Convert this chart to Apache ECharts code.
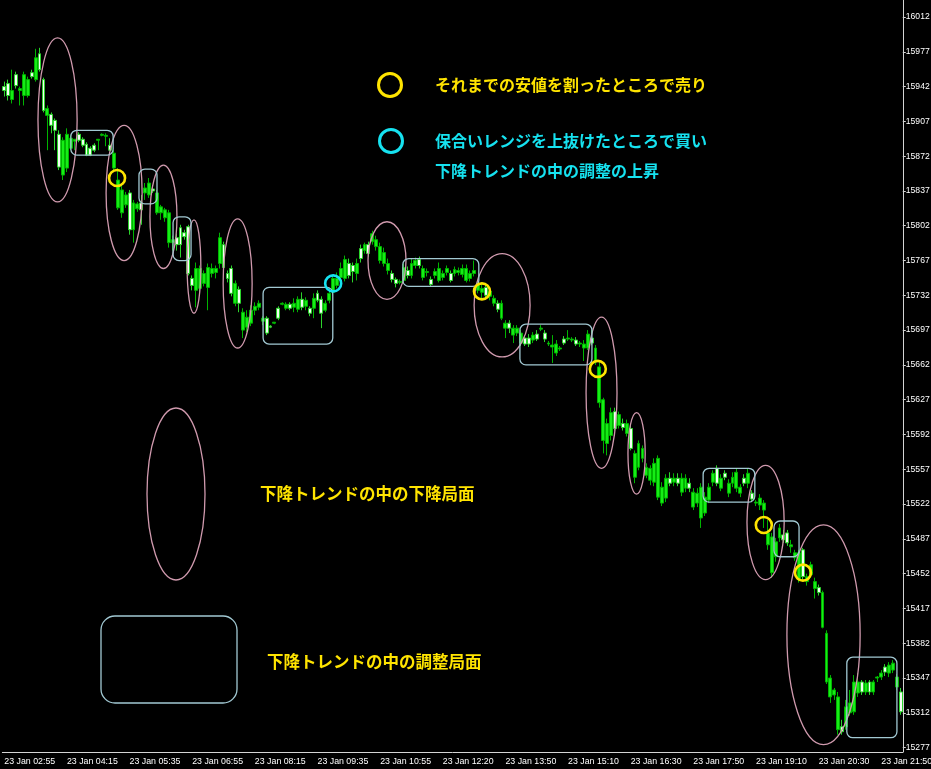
<!DOCTYPE html>
<html><head><meta charset="utf-8">
<script src="https://cdn.jsdelivr.net/npm/echarts@6/dist/echarts.min.js"></script>
<style>html,body{margin:0;padding:0;background:#000;}#c{width:931px;height:769px;}</style>
</head><body><div id="c"></div>
<script>
// Axis tick labels
const tickLabels = ['23 Jan 02:55','23 Jan 04:15','23 Jan 05:35','23 Jan 06:55','23 Jan 08:15','23 Jan 09:35','23 Jan 10:55','23 Jan 12:20','23 Jan 13:50','23 Jan 15:10','23 Jan 16:30','23 Jan 17:50','23 Jan 19:10','23 Jan 20:30','23 Jan 21:50'];
const yTicks = [15277,15312,15347,15382,15417,15452,15487,15522,15557,15592,15627,15662,15697,15732,15767,15802,15837,15872,15907,15942,15977,16012];

// 5-minute candles (open, close, low, high)
const openP = [15938,15933,15938,15943,15940,15954,15949,15952,15971,15959,
15918,15920,15903,15898,15861,15888,15894,15890,15889,15888,
15883,15873,15873,15878,15889,15894,15893,15878,15875,15848,
15838,15833,15798,15825,15824,15818,15840,15845,15837,15835,
15821,15818,15815,15788,15783,15783,15791,15754,15742,15759,
15759,15754,15760,15759,15759,15790,15760,15749,15734,15744,
15724,15715,15710,15717,15721,15724,15709,15694,15700,15705,
15709,15724,15723,15719,15724,15728,15720,15727,15714,15729,
15727,15714,15724,15734,15749,15749,15759,15768,15752,15756,
15764,15769,15783,15774,15794,15788,15781,15775,15764,15748,
15744,15746,15760,15752,15764,15767,15762,15759,15756,15743,
15756,15759,15754,15759,15747,15758,15757,15759,15759,15754,
15757,15744,15739,15732,15736,15729,15718,15724,15704,15699,
15699,15699,15694,15683,15683,15692,15688,15699,15688,15684,
15682,15683,15679,15684,15689,15688,15683,15684,15683,15693,
15684,15679,15660,15627,15603,15614,15598,15612,15599,15603,
15578,15573,15583,15578,15559,15558,15563,15568,15539,15548,
15543,15548,15543,15548,15548,15538,15534,15533,15539,15529,
15539,15553,15543,15548,15549,15543,15549,15554,15539,15543,
15553,15527,15524,15528,15523,15493,15489,15484,15498,15486,
15483,15481,15473,15473,15449,15449,15461,15444,15433,15433,
15392,15347,15335,15328,15293,15318,15322,15343,15343,15333,
15342,15333,15343,15348,15352,15353,15360,15362,15348,15313];
const closeP = [15942,15945,15929,15954,15938,15933,15933,15956,15949,15975,
15949,15913,15914,15908,15894,15853,15860,15880,15887,15894,
15889,15884,15880,15883,15888,15893,15892,15883,15860,15820,
15815,15823,15835,15798,15819,15825,15835,15833,15839,15815,
15815,15810,15785,15785,15790,15800,15795,15801,15749,15737,
15739,15744,15740,15754,15755,15764,15783,15754,15759,15724,
15738,15697,15700,15704,15717,15720,15706,15709,15701,15704,
15719,15723,15719,15723,15720,15718,15728,15721,15719,15719,
15734,15728,15717,15727,15735,15742,15750,15749,15764,15762,
15754,15779,15777,15783,15786,15781,15767,15764,15757,15754,
15748,15745,15747,15757,15752,15762,15768,15750,15755,15748,
15752,15747,15750,15755,15754,15754,15755,15753,15747,15749,
15754,15737,15735,15740,15731,15724,15724,15709,15699,15704,
15692,15694,15684,15689,15689,15687,15693,15698,15694,15683,
15680,15674,15678,15688,15688,15687,15687,15683,15679,15679,
15689,15665,15624,15586,15583,15591,15615,15601,15603,15593,
15598,15549,15559,15568,15551,15546,15544,15529,15523,15528,
15548,15544,15548,15534,15538,15543,15519,15523,15508,15513,
15526,15544,15558,15538,15553,15533,15543,15538,15533,15548,
15543,15533,15523,15521,15516,15481,15453,15469,15488,15491,
15493,15479,15468,15446,15476,15444,15451,15437,15438,15398,
15343,15328,15330,15295,15298,15298,15312,15313,15332,15343,
15333,15343,15333,15347,15348,15358,15352,15355,15338,15333];
const lowP = [15932,15928,15925,15940,15923,15923,15931,15950,15947,15957,
15916,15878,15895,15878,15858,15848,15856,15878,15878,15886,
15881,15872,15872,15876,15878,15892,15882,15877,15856,15818,
15810,15820,15793,15785,15816,15803,15828,15830,15835,15813,
15808,15806,15780,15777,15777,15770,15788,15752,15737,15720,
15732,15741,15717,15750,15749,15759,15757,15745,15731,15721,
15715,15689,15695,15701,15712,15717,15702,15692,15699,15703,
15707,15722,15717,15717,15715,15715,15717,15717,15711,15709,
15725,15699,15715,15724,15732,15739,15747,15746,15749,15745,
15747,15765,15774,15771,15783,15777,15764,15761,15753,15745,
15740,15743,15744,15749,15749,15759,15759,15747,15751,15741,
15749,15745,15747,15752,15745,15751,15752,15750,15745,15746,
15751,15734,15729,15729,15727,15721,15715,15707,15689,15694,
15684,15691,15681,15681,15680,15684,15686,15696,15685,15681,
15664,15671,15676,15682,15686,15685,15681,15680,15666,15677,
15682,15662,15619,15573,15571,15586,15596,15598,15596,15590,
15576,15543,15556,15564,15548,15541,15540,15526,15520,15524,
15540,15540,15540,15530,15534,15534,15516,15519,15498,15510,
15523,15540,15540,15535,15546,15529,15539,15534,15529,15540,
15538,15524,15520,15516,15498,15476,15448,15464,15484,15483,
15480,15473,15465,15443,15446,15440,15448,15427,15430,15397,
15341,15322,15325,15290,15290,15295,15309,15310,15328,15330,
15330,15330,15330,15343,15345,15349,15348,15352,15335,15310];
const highP = [15947,15949,15959,15957,15942,15957,15952,15959,15980,15981,
15951,15923,15916,15910,15898,15891,15900,15893,15889,15896,
15891,15886,15882,15885,15889,15895,15895,15890,15878,15860,
15843,15836,15838,15828,15826,15833,15845,15850,15843,15838,
15823,15820,15818,15792,15794,15803,15798,15803,15752,15765,
15762,15757,15764,15764,15762,15795,15786,15757,15762,15747,
15741,15719,15717,15722,15725,15727,15711,15711,15702,15705,
15721,15725,15725,15725,15729,15731,15735,15730,15721,15734,
15737,15731,15727,15737,15752,15755,15765,15772,15769,15765,
15769,15783,15785,15786,15797,15792,15785,15780,15769,15757,
15750,15748,15764,15761,15769,15770,15771,15762,15759,15751,
15759,15765,15757,15762,15757,15761,15760,15763,15763,15757,
15767,15747,15743,15743,15739,15732,15727,15727,15707,15707,
15702,15702,15697,15692,15693,15695,15697,15702,15697,15686,
15692,15687,15681,15691,15697,15690,15690,15686,15687,15697,
15697,15682,15665,15629,15608,15619,15619,15615,15608,15607,
15601,15576,15586,15581,15563,15561,15568,15571,15544,15552,
15554,15553,15553,15553,15552,15548,15538,15538,15543,15534,
15543,15556,15561,15552,15556,15547,15554,15558,15542,15552,
15558,15536,15526,15532,15526,15506,15493,15488,15502,15496,
15496,15486,15476,15476,15478,15452,15464,15448,15441,15435,
15395,15350,15337,15333,15305,15325,15335,15350,15352,15345,
15345,15345,15345,15349,15355,15361,15363,15365,15351,15337];

// Annotations in data units: [barFrom, barTo, priceTop, priceBottom]
const fallPhases = [[8.6,18.6,15991,15826],[26.0,35.2,15903,15767],[37.2,44.1,15863,15759],[46.7,50.2,15808,15714],[55.9,63.3,15809,15679],[92.9,102.6,15806,15728],[120.0,134.3,15774,15670],[148.6,156.5,15710,15558],[159.3,163.7,15614,15532],[189.7,199.2,15561,15446],[199.9,218.6,15501,15280]];
const rangePhases = [[17.0,27.8,15898,15873],[34.4,39.0,15859,15824],[43.1,47.7,15811,15767],[66.1,83.9,15740,15683],[101.8,121.2,15769,15741],[131.7,150.1,15703,15662],[178.5,191.7,15558,15524],[196.6,203.0,15505,15469],[215.2,228.0,15368,15287]];
const sellPoints = [[28.8,15850],[122.0,15736],[151.6,15658],[194.0,15501],[204.0,15453]];
const buyPoints = [[84.0,15744]];

const legendTexts = ['それまでの安値を割ったところで売り','保合いレンジを上抜けたところで買い','下降トレンドの中の調整の上昇','下降トレンドの中の下降局面','下降トレンドの中の調整局面'];

const N = openP.length;
const categories = openP.map((_, i) => String(i));
const candles = openP.map((o, i) => [o, closeP[i], lowP[i], highP[i]]);

const PINK = '#d09aae', BLUE = '#a2c9d3', YELLOW = '#ffe400', CYAN = '#16e2f0';
const cjk = '"Noto Sans CJK JP", "Noto Sans CJK SC", sans-serif';

function boxRender(kind) {
  return function (params, api) {
    const a = api.coord([api.value(0), api.value(2)]);
    const b = api.coord([api.value(1), api.value(3)]);
    const x0 = Math.min(a[0], b[0]), x1 = Math.max(a[0], b[0]);
    const y0 = Math.min(a[1], b[1]), y1 = Math.max(a[1], b[1]);
    if (kind === 'ellipse') {
      return {type: 'ellipse', shape: {cx: (x0 + x1) / 2, cy: (y0 + y1) / 2, rx: (x1 - x0) / 2, ry: (y1 - y0) / 2},
        style: {fill: 'none', stroke: PINK, lineWidth: 1.3}};
    }
    return {type: 'rect', shape: {x: x0, y: y0, width: x1 - x0, height: y1 - y0, r: 6},
      style: {fill: 'none', stroke: BLUE, lineWidth: 1.3}};
  };
}
function circleRender(color) {
  return function (params, api) {
    const p = api.coord([api.value(0), api.value(1)]);
    return {type: 'circle', shape: {cx: p[0], cy: p[1], r: 8}, style: {fill: 'none', stroke: color, lineWidth: 2.6}};
  };
}

const chart = echarts.init(document.getElementById('c'));
const axisCol = '#d4d4d4';
chart.setOption({
  backgroundColor: '#000',
  animation: false,
  grid: {left: 2.35, top: 0, width: 900.45, height: 752, containLabel: false, outerBoundsMode: 'none'},
  xAxis: [{
    type: 'category', data: categories, boundaryGap: true,
    axisLine: {onZero: false, lineStyle: {color: axisCol, width: 1}},
    axisTick: {alignWithLabel: true, interval: (i) => i % 16 === 0, length: 4, lineStyle: {color: axisCol}},
    axisLabel: {interval: (i) => i % 16 === 0, formatter: (v, i) => tickLabels[i / 16] || '', color: '#ffffff',
      fontSize: 8.8, fontFamily: 'Liberation Sans', align: 'left', margin: 5},
    splitLine: {show: false}
  }, {
    type: 'value', min: -0.5, max: N - 0.5, show: false
  }],
  yAxis: {
    type: 'value', position: 'right', min: 15272.6, max: 16029.1, scale: true,
    axisLine: {show: true, onZero: false, lineStyle: {color: axisCol}},
    axisTick: {show: true, length: 3, customValues: yTicks, lineStyle: {color: axisCol}},
    axisLabel: {customValues: yTicks, formatter: (v) => String(Math.round(v)), color: '#ffffff', fontSize: 8.6,
      fontFamily: 'Liberation Sans', margin: 3},
    splitLine: {show: false}
  },
  series: [{
    type: 'candlestick', data: candles, barWidth: 3.4, xAxisIndex: 0,
    itemStyle: {color: '#f4fff4', borderColor: '#2bd42b', color0: '#16ee16', borderColor0: '#00b400', borderWidth: 1}
  }, {
    type: 'custom', xAxisIndex: 1, yAxisIndex: 0, data: fallPhases, renderItem: boxRender('ellipse'), silent: true, z: 5,
    encode: {x: [0, 1], y: [2, 3]}
  }, {
    type: 'custom', xAxisIndex: 1, yAxisIndex: 0, data: rangePhases, renderItem: boxRender('rect'), silent: true, z: 5,
    encode: {x: [0, 1], y: [2, 3]}
  }, {
    type: 'custom', xAxisIndex: 1, yAxisIndex: 0, data: sellPoints, renderItem: circleRender(YELLOW), silent: true, z: 6,
    encode: {x: 0, y: 1}
  }, {
    type: 'custom', xAxisIndex: 1, yAxisIndex: 0, data: buyPoints, renderItem: circleRender(CYAN), silent: true, z: 6,
    encode: {x: 0, y: 1}
  }],
  graphic: [
    {type: 'circle', shape: {cx: 390, cy: 85, r: 11.5}, style: {fill: 'none', stroke: YELLOW, lineWidth: 3}},
    {type: 'text', x: 435, y: 85, style: {text: legendTexts[0], fill: YELLOW, font: 'bold 16px ' + cjk, verticalAlign: 'middle'}},
    {type: 'circle', shape: {cx: 391, cy: 141, r: 11.5}, style: {fill: 'none', stroke: CYAN, lineWidth: 3}},
    {type: 'text', x: 435, y: 141, style: {text: legendTexts[1], fill: CYAN, font: 'bold 16px ' + cjk, verticalAlign: 'middle'}},
    {type: 'text', x: 435, y: 171, style: {text: legendTexts[2], fill: CYAN, font: 'bold 16px ' + cjk, verticalAlign: 'middle'}},
    {type: 'ellipse', shape: {cx: 176, cy: 494, rx: 29, ry: 86}, style: {fill: 'none', stroke: PINK, lineWidth: 1.3}},
    {type: 'text', x: 260, y: 494, style: {text: legendTexts[3], fill: YELLOW, font: 'bold 16.5px ' + cjk, verticalAlign: 'middle'}},
    {type: 'rect', shape: {x: 101, y: 616, width: 136, height: 87, r: 14}, style: {fill: 'none', stroke: BLUE, lineWidth: 1.3}},
    {type: 'text', x: 267, y: 662, style: {text: legendTexts[4], fill: YELLOW, font: 'bold 16.5px ' + cjk, verticalAlign: 'middle'}}
  ]
});
</script></body></html>
